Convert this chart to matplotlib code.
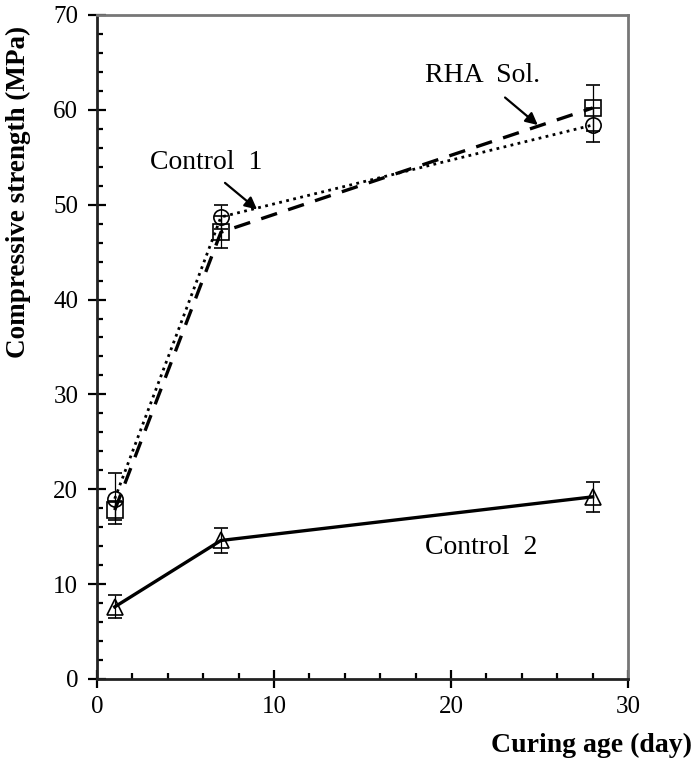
import matplotlib
matplotlib.use('Agg')
import matplotlib.pyplot as plt
from matplotlib.ticker import MultipleLocator

plt.rcParams['font.family'] = 'Liberation Serif'

# data
days = [1, 7, 28]

control1 = [19.0, 48.7, 58.4]
control1_err = [2.7, 1.3, 1.8]

rha_sol = [17.8, 47.1, 60.2]
rha_sol_err = [1.0, 1.7, 2.4]

control2 = [7.6, 14.6, 19.2]
control2_err = [1.2, 1.3, 1.6]

xticks = [0, 10, 20, 30]
yticks = [0, 10, 20, 30, 40, 50, 60, 70]

fig = plt.figure(figsize=(6.94, 7.61), dpi=100)
ax = fig.add_axes([0.1398, 0.1078, 0.7652, 0.8725])

err_kw = dict(ecolor='black', elinewidth=0.9, capsize=5, capthick=0.9)

ax.errorbar(days, control1, yerr=control1_err, color='black', lw=2.0,
            linestyle=(0, (1, 1.6)), marker='o', markersize=11,
            markerfacecolor='none', markeredgewidth=1.2, **err_kw)
ax.errorbar(days, rha_sol, yerr=rha_sol_err, color='black', lw=2.4,
            linestyle=(0, (5, 3.5)), marker='s', markersize=11,
            markerfacecolor='none', markeredgewidth=1.2, **err_kw)
ax.errorbar(days, control2, yerr=control2_err, color='black', lw=2.4,
            linestyle='-', marker='^', markersize=11,
            markerfacecolor='none', markeredgewidth=1.2, **err_kw)

# labels on the curves
ax.text(6.16, 54.5, 'Control  1', fontsize=20, ha='center', va='center')
ax.text(21.8, 63.6, 'RHA  Sol.', fontsize=20, ha='center', va='center')
ax.text(21.7, 13.9, 'Control  2', fontsize=20, ha='center', va='center')

arrow = dict(arrowstyle='-|>', color='black', lw=1.6, mutation_scale=18,
             shrinkA=0, shrinkB=0)
ax.annotate('', xy=(9.04, 49.5), xytext=(7.23, 52.3), arrowprops=arrow)
ax.annotate('', xy=(24.9, 58.4), xytext=(23.05, 61.3), arrowprops=arrow)

# axes
ax.set_xlim(0, 30)
ax.set_ylim(0, 70)
ax.set_xticks(xticks)
ax.set_yticks(yticks)
ax.xaxis.set_minor_locator(MultipleLocator(2))
ax.yaxis.set_minor_locator(MultipleLocator(2))
ax.tick_params(which='major', direction='inout', length=13, width=1.6,
               labelsize=18, top=False, right=False)
ax.tick_params(axis='x', which='major', pad=6)
ax.tick_params(axis='y', which='major', pad=7)
ax.tick_params(which='minor', direction='in', length=4, width=1.6,
               top=False, right=False)

for side in ['left', 'bottom']:
    ax.spines[side].set_linewidth(2.0)
    ax.spines[side].set_color('#222222')
for side in ['top', 'right']:
    ax.spines[side].set_linewidth(2.0)
    ax.spines[side].set_color('#777777')

fig.text(18 / 694, 1 - 192 / 761, 'Compressive strength (MPa)', rotation=90,
         fontsize=19.5, fontweight='bold', ha='center', va='center')
fig.text(692 / 694, 1 - 745 / 761, 'Curing age (day)', fontsize=20,
         fontweight='bold', ha='right', va='center')

fig.savefig('out.png', dpi=100)
